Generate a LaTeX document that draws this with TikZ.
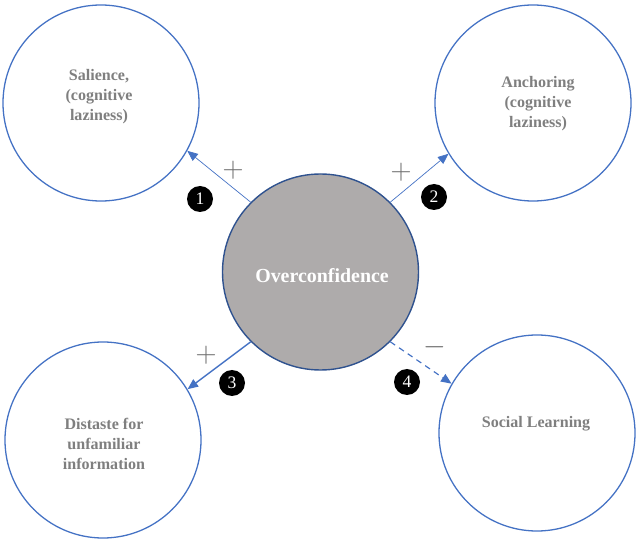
\documentclass[tikz,border=0pt]{standalone}
\usepackage{fontspec}
\setmainfont{Liberation Serif}
\usetikzlibrary{arrows.meta}
\definecolor{ringblue}{HTML}{4472C4}
\definecolor{ringdark}{HTML}{2F528F}
\definecolor{discgrey}{HTML}{AEABAB}
\definecolor{labelgrey}{HTML}{7F7F7F}
\definecolor{signgrey}{HTML}{6F6F6F}

\begin{document}
\begin{tikzpicture}[x=0.03cm,y=-0.03cm,
    bubble/.style={circle,draw=ringblue,line width=1.1pt,minimum size=5.88cm,inner sep=0pt},
    tag/.style={align=center,text=labelgrey,font=\fontsize{13.7}{17}\selectfont\bfseries},
    badge/.style={circle,fill=black,text=white,minimum size=0.78cm,inner sep=0pt,font=\fontsize{15}{15}\selectfont},
    sign/.style={text=signgrey,font=\fontsize{28}{28}\selectfont},
    link/.style={draw=ringblue,-{Triangle[length=9pt,width=7.5pt]}}]
  \useasboundingbox (0,0) rectangle (636,540);
  % the five circles
  \node[bubble,fill=discgrey,draw=ringdark,line width=1.2pt] (over) at (320.5,272) {};
  \node[bubble] (sal) at (101,103) {};
  \node[bubble] (anc) at (533,103) {};
  \node[bubble] (dis) at (103,440) {};
  \node[bubble] (soc) at (537,433) {};
  \node[tag,text=white,font=\fontsize{17}{20}\selectfont\bfseries] (overtxt) at (322,276) {Overconfidence};
  \node[tag] (saltxt) at (99,97) {Salience,\\(cognitive\\laziness)};
  \node[tag] (anctxt) at (538,104) {Anchoring\\(cognitive\\laziness)};
  \node[tag] (distxt) at (104,444) {Distaste for\\unfamiliar\\information};
  \node[tag] (soctxt) at (536,424) {Social Learning};
  % links out of the centre
  \draw[link,line width=0.6pt] (over.135) -- (sal.-29);
  \draw[link,line width=0.6pt] (over.45) -- (anc.211);
  \draw[link,line width=1.2pt] (over.225) -- (dis.31);
  \draw[link,line width=1pt,dash pattern=on 5pt off 4pt] (over.-45) -- (soc.150);
  \node[sign] (s1) at (233,170) {$+$};
  \node[sign] (s2) at (401,172) {$+$};
  \node[sign] (s3) at (206,355) {$+$};
  \node[sign] (s4) at (435,347) {$-$};
  \node[badge] (b1) at (200,199) {1};
  \node[badge] (b2) at (434,197) {2};
  \node[badge] (b3) at (232,383) {3};
  \node[badge] (b4) at (407,382) {4};
\end{tikzpicture}
\end{document}
